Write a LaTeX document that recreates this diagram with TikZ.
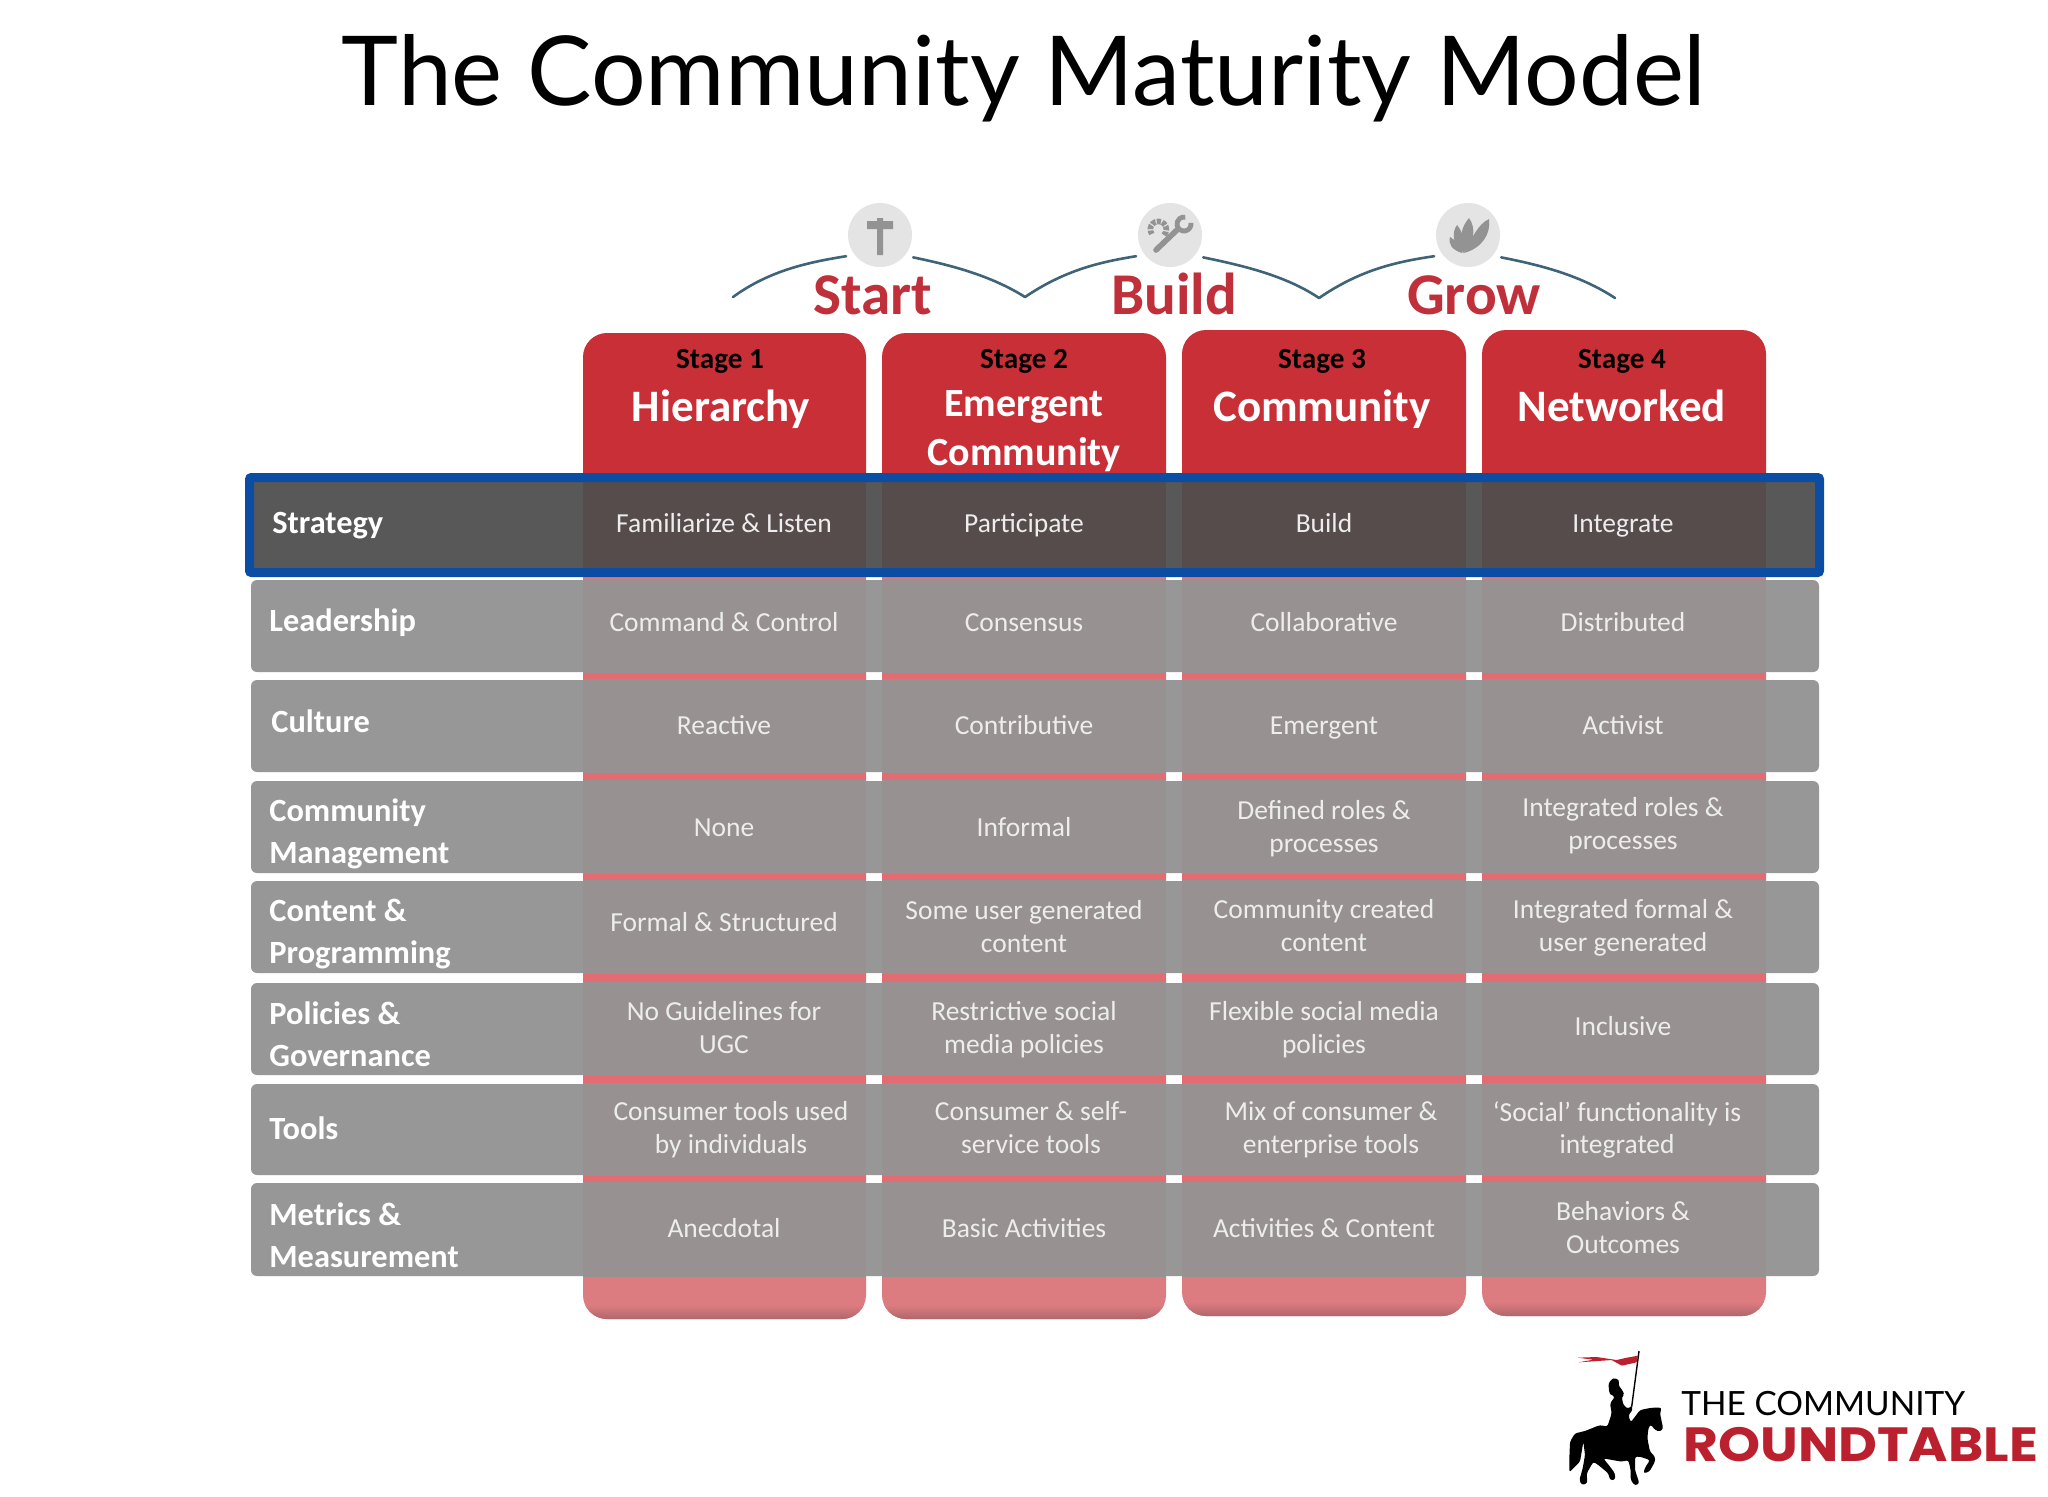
\documentclass[tikz,border=0pt]{standalone}
\usepackage{fontspec}
\setmainfont{Carlito}
\newfontfamily\latofont{Lato}
\newfontfamily\popfont[FakeStretch=1.115]{Poppins}
\definecolor{hdrred}{HTML}{C92F36}
\definecolor{pinkcol}{HTML}{DC7B80}
\definecolor{pinkrim}{HTML}{B0666A}
\definecolor{pinkline}{HTML}{E36C72}
\definecolor{rowgray}{HTML}{979797}
\definecolor{cellgray}{HTML}{979191}
\definecolor{darkrow}{HTML}{585858}
\definecolor{darkcell}{HTML}{564C4C}
\definecolor{hiblue}{HTML}{0B4DA2}
\definecolor{arcblue}{HTML}{3F6478}
\definecolor{celltxt}{HTML}{EDEDED}
\definecolor{stagered}{HTML}{C0303A}
\definecolor{logored}{HTML}{BB202E}
\definecolor{iconbg}{HTML}{E4E4E4}
\definecolor{iconfg}{HTML}{939393}
\tikzset{
  struts/.style={execute at begin node=\strut,execute at end node=\strut},
  celltext/.style={struts,yshift=-1.3pt,text=celltxt,align=center,inner sep=0pt,font=\fontsize{13.75}{16.3}\selectfont},
  rowlabel/.style={struts,yshift=-1.3pt,text=white,align=left,anchor=west,inner sep=0pt,font=\fontsize{16.2}{21}\selectfont\bfseries},
  stagehead/.style={struts,yshift=-3.3pt,text=stagered,inner sep=0pt,font=\fontsize{29.6}{32}\selectfont\bfseries},
  stagenum/.style={struts,yshift=-0.6pt,text=black,inner sep=0pt,font=\fontsize{14.6}{16}\selectfont\bfseries},
  stagename/.style={struts,yshift=-2pt,text=white,align=center,inner sep=0pt,font=\fontsize{22.5}{25}\selectfont\bfseries},
  stagenamesmall/.style={struts,yshift=-3.6pt,text=white,align=center,inner sep=0pt,font=\fontsize{20}{24.2}\selectfont\bfseries},
  iconball/.style={circle,fill=iconbg,minimum size=32pt,inner sep=0pt,outer sep=4pt},
  arcline/.style={draw=arcblue,line width=1.3pt,line cap=round},
}
\begin{document}
\begin{tikzpicture}[x=0.5pt,y=-0.5pt]
\useasboundingbox (0,0) rectangle (2048,1496);
\fill[white] (0,0) rectangle (2048,1496);
% title
\node[anchor=base,inner sep=0pt,font=\fontsize{48.25}{52}\selectfont\latofont] (title) at (1024,105) {The Community Maturity Model};
% columns
\foreach \xa/\xb/\yt/\yb in {583/866/333/1319,882/1166/333/1319,1182/1466/330/1316,1482/1766/330/1316}{
  \fill[pinkcol,rounded corners=12pt] (\xa,500) rectangle (\xb,\yb);
  \begin{scope}
    \clip[rounded corners=12pt] (\xa,500) rectangle (\xb,\yb);
    \shade[top color=pinkcol,bottom color=pinkrim] (\xa,\yb-14) rectangle (\xb,\yb);
  \end{scope}
  \fill[pinkline] (\xa,600) rectangle (\xb,1200);
  \fill[hdrred,rounded corners=12pt] (\xa,\yt) rectangle (\xb,520);
}
% rows
\foreach \ya/\yb in {580/672,680/772,781/873,881/973,983/1075,1084/1175,1183/1276}{
  \fill[rowgray,rounded corners=3pt] (251,\ya) rectangle (1819,\yb);
  \fill[cellgray] (583,\ya-1) rectangle (866,\yb+1);
  \fill[cellgray] (882,\ya-1) rectangle (1166,\yb+1);
  \fill[cellgray] (1182,\ya-1) rectangle (1466,\yb+1);
  \fill[cellgray] (1482,\ya-1) rectangle (1766,\yb+1);
}
% strategy row
\fill[darkrow] (254,482) rectangle (1819,568);
\fill[darkcell] (583,482) rectangle (866,568);
\fill[darkcell] (882,482) rectangle (1166,568);
\fill[darkcell] (1182,482) rectangle (1466,568);
\fill[darkcell] (1482,482) rectangle (1766,568);
\draw[hiblue,line width=4.5pt,rounded corners=1pt] (249.5,477.5) rectangle (1819.5,572.5);
% stage icons and arcs
\node[iconball] (i1) at (880,235) {};
\node[iconball] (i2) at (1170,235) {};
\node[iconball] (i3) at (1468,235) {};
\coordinate (v0) at (733,297);
\coordinate (v1) at (1025,297);
\coordinate (v2) at (1319,298);
\coordinate (v3) at (1615,298);
\draw[arcline] (v0) .. controls (770,270) and (810,262) .. (i1.212);
\draw[arcline] (i1.326) .. controls (950,265) and (990,275) .. (v1);
\draw[arcline] (v1) .. controls (1065,270) and (1100,262) .. (i2.212);
\draw[arcline] (i2.326) .. controls (1240,265) and (1285,275) .. (v2);
\draw[arcline] (v2) .. controls (1360,270) and (1395,262) .. (i3.212);
\draw[arcline] (i3.326) .. controls (1540,265) and (1580,275) .. (v3);
% icon glyphs
\fill[iconfg] (877,218) -- (883,218) -- (883,221) -- (893,221) -- (893,229) -- (883,229) -- (883,255) -- (877,255) -- (877,229) -- (867,229) -- (867,221) -- (877,221) -- cycle;
\draw[iconfg,line width=2.8pt,line cap=round] (1156,250) -- (1178,229);
\draw[iconfg,line width=2.4pt] (1190.9,222.8) arc[start angle=-10,end angle=280,radius=7];
\draw[iconfg,line width=2.8pt,dash pattern=on 2pt off 0.7pt] (1164,235) arc[start angle=45,end angle=-215,radius=8];
\fill[iconfg] (1462,253) .. controls (1452,250) and (1448,244) .. (1450,237) .. controls (1456,240) and (1460,246) .. cycle;
\fill[iconfg] (1462,253) .. controls (1452,242) and (1452,232) .. (1457,225) .. controls (1463,232) and (1466,244) .. cycle;
\fill[iconfg] (1463,253) .. controls (1458,238) and (1462,226) .. (1469,218) .. controls (1476,228) and (1475,242) .. cycle;
\fill[iconfg] (1464,253) .. controls (1472,238) and (1478,224) .. (1489,219) .. controls (1491,234) and (1482,248) .. cycle;
% stage headings
\node[stagehead] (hs) at (873,295) {Start};
\node[stagehead] (hb) at (1174,295) {Build};
\node[stagehead] (hg) at (1474,295) {Grow};
% stages
\node[stagenum] (s1) at (720,361) {Stage 1};
\node[stagenum] (s2) at (1024,361) {Stage 2};
\node[stagenum] (s3) at (1322,361) {Stage 3};
\node[stagenum] (s4) at (1622,361) {Stage 4};
\node[stagename] (n1) at (721,407) {Hierarchy};
\node[stagenamesmall] (n2) at (1024,428) {Emergent\\Community};
\node[stagename] (n3) at (1322,407) {Community};
\node[stagename] (n4) at (1622,407) {Networked};
% row labels
\node[rowlabel] (l1) at (272,522) {Strategy};
\node[rowlabel] (l2) at (269,620) {Leadership};
\node[rowlabel] (l3) at (271,721) {Culture};
\node[rowlabel] (l4) at (269,835) {Community\\Management};
\node[rowlabel] (l5) at (269,935) {Content \&\\Programming};
\node[rowlabel] (l6) at (269,1038) {Policies \&\\Governance};
\node[rowlabel] (l7) at (269,1128) {Tools};
\node[rowlabel] (l8) at (269,1239) {Metrics \&\\Measurement};
% cells
\node[celltext] (a11) at (724,523) {Familiarize \& Listen};
\node[celltext] (a12) at (1024,523) {Participate};
\node[celltext] (a13) at (1324,523) {Build};
\node[celltext] (a14) at (1623,523) {Integrate};
\node[celltext] (a21) at (724,622) {Command \& Control};
\node[celltext] (a22) at (1024,622) {Consensus};
\node[celltext] (a23) at (1324,622) {Collaborative};
\node[celltext] (a24) at (1623,622) {Distributed};
\node[celltext] (a31) at (724,725) {Reactive};
\node[celltext] (a32) at (1024,725) {Contributive};
\node[celltext] (a33) at (1324,725) {Emergent};
\node[celltext] (a34) at (1623,725) {Activist};
\node[celltext] (a41) at (724,827) {None};
\node[celltext] (a42) at (1024,827) {Informal};
\node[celltext] (a43) at (1324,829) {Defined roles \&\\processes};
\node[celltext] (a44) at (1623,826) {Integrated roles \&\\processes};
\node[celltext] (a51) at (724,922) {Formal \& Structured};
\node[celltext] (a52) at (1024,929) {Some user generated\\content};
\node[celltext] (a53) at (1324,928) {Community created\\content};
\node[celltext] (a54) at (1623,928) {Integrated formal \&\\user generated};
\node[celltext] (a61) at (724,1030) {No Guidelines for\\UGC};
\node[celltext] (a62) at (1024,1030) {Restrictive social\\media policies};
\node[celltext] (a63) at (1324,1030) {Flexible social media\\policies};
\node[celltext] (a64) at (1623,1026) {Inclusive};
\node[celltext] (a71) at (731,1130) {Consumer tools used\\by individuals};
\node[celltext] (a72) at (1031,1130) {Consumer \& self-\\service tools};
\node[celltext] (a73) at (1331,1130) {Mix of consumer \&\\enterprise tools};
\node[celltext] (a74) at (1617,1130) {`Social' functionality is\\integrated};
\node[celltext] (a81) at (724,1228) {Anecdotal};
\node[celltext] (a82) at (1024,1228) {Basic Activities};
\node[celltext] (a83) at (1324,1228) {Activities \& Content};
\node[celltext] (a84) at (1623,1230) {Behaviors \&\\Outcomes};
% logo
\begin{scope}[shift={(1560,1345)},x=0.16667pt,y=-0.16667pt]
  \draw[black,line width=0.7pt] (237,18) -- (215,185);
  \fill[logored,rounded corners=0.4pt] (235,32) -- (230,52) -- (185,62) -- (155,45) -- (55,52) -- (100,44) -- (52,38) -- (110,36) -- (170,45) -- (200,38) -- cycle;
  \fill[black,rounded corners=1.2pt] (305,188) -- (300,205) -- (306,235) -- (310,250) -- (300,260) -- (285,255) -- (272,238) -- (265,250) -- (262,280) -- (270,320) -- (285,335) -- (285,350) -- (268,380) -- (250,385) -- (255,368) -- (270,345) -- (240,335) -- (225,335) -- (225,375) -- (238,415) -- (225,422) -- (212,405) -- (212,375) -- (205,345) -- (185,350) -- (130,340) -- (150,365) -- (165,385) -- (165,405) -- (150,405) -- (145,385) -- (115,360) -- (100,350) -- (80,385) -- (82,415) -- (65,420) -- (58,405) -- (68,370) -- (75,330) -- (70,290) -- (65,320) -- (60,350) -- (28,382) -- (28,340) -- (30,290) -- (45,265) -- (75,258) -- (95,250) -- (120,240) -- (142,245) -- (155,205) -- (150,175) -- (165,155) -- (155,150) -- (148,145) -- (145,115) -- (160,98) -- (178,105) -- (175,120) -- (190,140) -- (192,150) -- (185,155) -- (190,180) -- (205,192) -- (215,180) -- (218,195) -- (205,210) -- (212,232) -- (240,195) -- (275,188) -- cycle;
\end{scope}
\node[anchor=base west,inner sep=0pt,font=\fontsize{16.7}{18}\selectfont\latofont] (lg1) at (1681,1415) {THE COMMUNITY};
\node[anchor=base west,inner sep=0pt,text=logored,font=\fontsize{24}{26}\selectfont\popfont\bfseries] (lg2) at (1683,1461) {ROUNDTABLE};
\end{tikzpicture}
\end{document}
